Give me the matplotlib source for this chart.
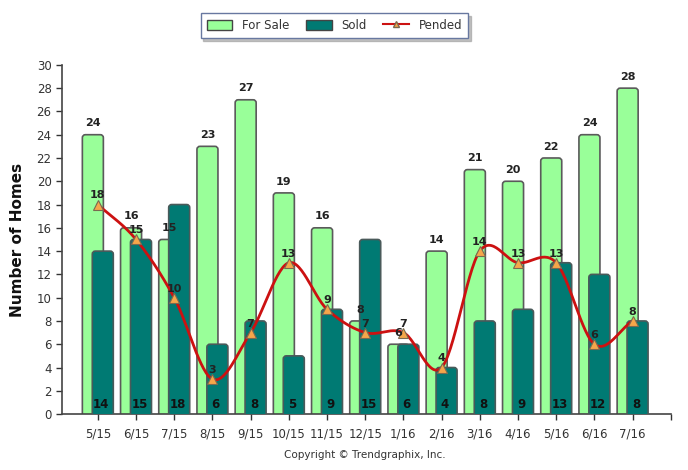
import numpy as np
import matplotlib
matplotlib.use("Agg")
import matplotlib.pyplot as plt
from matplotlib.patches import FancyBboxPatch, Patch
from matplotlib.lines import Line2D

months = ["5/15", "6/15", "7/15", "8/15", "9/15", "10/15", "11/15", "12/15",
          "1/16", "2/16", "3/16", "4/16", "5/16", "6/16", "7/16"]
for_sale = [24, 16, 15, 23, 27, 19, 16, 8, 6, 14, 21, 20, 22, 24, 28]
sold = [14, 15, 18, 6, 8, 5, 9, 15, 6, 4, 8, 9, 13, 12, 8]
pended = [18, 15, 10, 3, 7, 13, 9, 7, 7, 4, 14, 13, 13, 6, 8]

GREEN = "#99FF99"
TEAL = "#007A73"
RED = "#CC1111"
ORANGE = "#F5A64A"
TXT = "#333333"


def smooth(x, y, n=30):
    """Catmull-Rom curve through the points (for drawing the line only)."""
    x = np.asarray(x, float)
    y = np.asarray(y, float)
    m = np.zeros_like(y)
    m[1:-1] = (y[2:] - y[:-2]) / 2
    m[0] = y[1] - y[0]
    m[-1] = y[-1] - y[-2]
    xs, ys = [], []
    for i in range(len(x) - 1):
        t = np.linspace(0, 1, n, endpoint=False)
        h00 = 2 * t**3 - 3 * t**2 + 1
        h10 = t**3 - 2 * t**2 + t
        h01 = -2 * t**3 + 3 * t**2
        h11 = t**3 - t**2
        xs.append(x[i] + t * (x[i + 1] - x[i]))
        ys.append(h00 * y[i] + h10 * m[i] + h01 * y[i + 1] + h11 * m[i + 1])
    xs.append([x[-1]])
    ys.append([y[-1]])
    return np.concatenate(xs), np.concatenate(ys)


def round_bars(ax, bars, color, edge):
    # swap the plain rectangles for rounded ones
    for b in bars:
        x0, w, h = b.get_x(), b.get_width(), b.get_height()
        b.set_visible(False)
        p = FancyBboxPatch((x0, -1), w, h + 1,
                           boxstyle="round,pad=0,rounding_size=0.08",
                           mutation_aspect=3.27,
                           facecolor=color, edgecolor=edge, linewidth=1.2,
                           zorder=b.get_zorder())
        ax.add_patch(p)


fig = plt.figure(figsize=(6.88, 4.70), dpi=100)
ax = fig.add_axes([0.090, 0.119, 0.885, 0.743])

x = np.arange(len(months))
w = 0.55
off = 0.13

fs_bars = ax.bar(x - off, for_sale, w, zorder=2)
round_bars(ax, fs_bars, GREEN, "#5a5a5a")
sd_bars = ax.bar(x + off, sold, w, zorder=3)
round_bars(ax, sd_bars, TEAL, "#4a5a5a")

cx, cy = smooth(x, pended)
ax.plot(cx, cy, color=RED, lw=2, zorder=4)
ax.plot(x, pended, linestyle="none", marker="^", markersize=7,
        markerfacecolor=ORANGE, markeredgecolor="#7a6a50", markeredgewidth=0.8, zorder=5)

for i in range(len(months)):
    ax.text(x[i] - off, for_sale[i] + 0.55, str(for_sale[i]), ha="center", va="bottom",
            fontsize=8, fontweight="bold", color="#222222", zorder=6)
    ax.text(x[i] + off - 0.04, 0.85, str(sold[i]), ha="center", va="center",
            fontsize=8.5, fontweight="bold", color="#111111", zorder=6)
    ax.text(x[i], pended[i] + 0.35, str(pended[i]), ha="center", va="bottom",
            fontsize=8, fontweight="bold", color="#222222", zorder=6)

ax.set_xlim(-0.94, 15.0)
ax.set_ylim(0, 30)
ax.set_yticks(range(0, 31, 2))
ax.set_xticks(list(x) + [15.0])
ax.set_xticklabels(months + [""])
ax.tick_params(axis="both", labelsize=8.5, colors=TXT, length=4, width=1)
ax.tick_params(axis="x", pad=6)
for s in ["top", "right"]:
    ax.spines[s].set_visible(False)
for s in ["left", "bottom"]:
    ax.spines[s].set_color("#444444")
    ax.spines[s].set_linewidth(1.2)

ax.set_ylabel("Number of Homes", fontsize=11, fontweight="bold", color="#111111", labelpad=8)

handles = [Patch(facecolor=GREEN, edgecolor="#444444", label="For Sale"),
           Patch(facecolor=TEAL, edgecolor="#444444", label="Sold"),
           Line2D([], [], color=RED, lw=1.5, marker="^", markersize=4,
                  markerfacecolor=ORANGE, markeredgecolor="#7a6a50", label="Pended")]
leg = fig.legend(handles=handles, loc="upper center", bbox_to_anchor=(0.486, 0.985),
                 ncol=3, fontsize=8.5, frameon=True, fancybox=False,
                 shadow={"color": "#999999", "alpha": 0.6, "ox": 2, "oy": -2},
                 handlelength=2.2, handleheight=0.9, columnspacing=1.4, borderpad=0.5)
leg.get_frame().set_edgecolor("#6878a0")
leg.get_frame().set_linewidth(1.0)
for t in leg.get_texts():
    t.set_color(TXT)

fig.text(0.53, 0.032, "Copyright \u00a9 Trendgraphix, Inc.", ha="center", va="center",
         fontsize=7.5, color=TXT)

fig.savefig("out.png", dpi=100)
